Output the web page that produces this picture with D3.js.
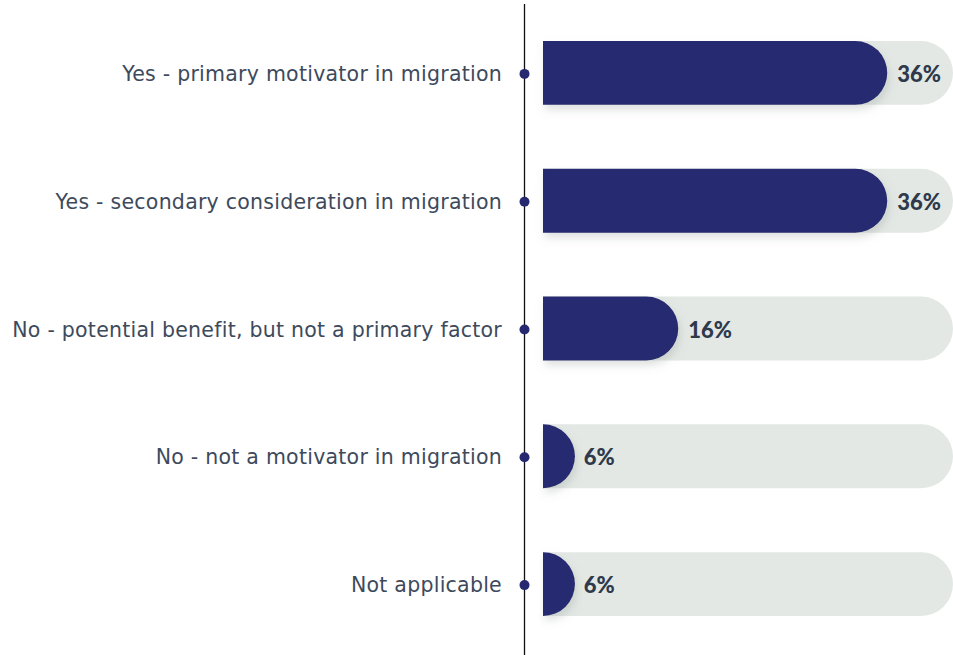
<!DOCTYPE html>
<html><head><meta charset="utf-8">
<script src="https://cdn.jsdelivr.net/npm/d3@7"></script>
<style>body{margin:0;background:#fff}svg{display:block}</style>
</head><body>
<script>
const categories = [
  "Yes - primary motivator in migration",
  "Yes - secondary consideration in migration",
  "No - potential benefit, but not a primary factor",
  "No - not a motivator in migration",
  "Not applicable"
];
const values = [36, 36, 16, 6, 6];
const valueLabels = ["36%", "36%", "16%", "6%", "6%"];

const W = 953, H = 655;
const svg = d3.select("body").append("svg").attr("width", W).attr("height", H);
const defs = svg.append("defs");
const f = defs.append("filter").attr("id","sh").attr("x","-10%").attr("y","-30%").attr("width","130%").attr("height","180%");
f.append("feDropShadow").attr("dx",2).attr("dy",5).attr("stdDeviation",4).attr("flood-color","#7a8a80").attr("flood-opacity",0.25);

const x0 = 543, axisX = 524.5;
const y = d3.scaleBand().domain(categories).range([9, 648]).paddingInner(0.5).paddingOuter(0.25);
const x = d3.scaleLinear().domain([0, 40]).range([0, 418]);
const bh = y.bandwidth(), r = bh / 2;

// axis line
svg.append("line").attr("x1", axisX).attr("x2", axisX).attr("y1", 4).attr("y2", H)
  .attr("stroke", "#111").attr("stroke-width", 1.3);

const g = svg.selectAll("g.row").data(categories).join("g").attr("class","row");

// track
g.append("path").attr("fill", "#e3e8e5")
  .attr("d", d => {
    const t = y(d), cx = W - r;
    return `M${x0},${t}H${cx}A${r},${r} 0 0 1 ${cx},${t+bh}H${x0}Z`;
  });

// bars
g.append("path").attr("fill", "#272970").attr("filter","url(#sh)")
  .attr("d", (d,i) => {
    const t = y(d);
    const end = x0 + x(values[i]) - r;
    const cx = Math.max(x0, end - r);
    return `M${x0},${t}H${cx}A${r},${r} 0 0 1 ${cx},${t+bh}H${x0}Z`;
  });

// value labels
g.append("text")
  .attr("x", (d,i) => x0 + x(values[i]) - r + 10)
  .attr("y", d => y(d) + bh/2 + 9)
  .attr("font-family","Lato, 'Noto Sans', sans-serif").attr("font-weight","900")
  .attr("font-size", 22).attr("fill", "#2e3a4b")
  .text((d,i) => valueLabels[i]);

// dots
g.append("circle").attr("cx", axisX).attr("cy", d => y(d) + bh/2 + 1).attr("r", 5).attr("fill", "#272970");

// category labels
g.append("text")
  .attr("x", 502).attr("y", d => y(d) + bh/2 + 8)
  .attr("text-anchor","end")
  .attr("font-family","'DejaVu Sans', sans-serif").attr("font-size", 20.5)
  .attr("letter-spacing", 0.25)
  .attr("fill", "#3d4a5c")
  .text(d => d);
</script>
</body></html>
